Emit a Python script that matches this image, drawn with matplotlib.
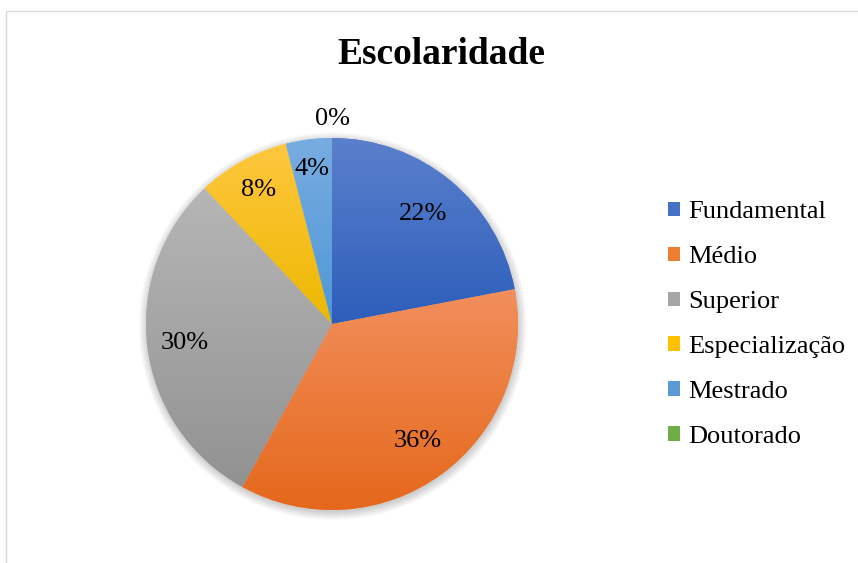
import numpy as np
import matplotlib
matplotlib.use("Agg")
from matplotlib import pyplot as plt
from matplotlib.patches import Patch, Rectangle, Circle
from matplotlib.colors import LinearSegmentedColormap

plt.rcParams['font.family'] = ['Liberation Serif', 'DejaVu Serif']

########################################
# Data
########################################
categories = ['Fundamental', 'Médio', 'Superior', 'Especialização', 'Mestrado', 'Doutorado']
values = [22, 36, 30, 8, 4, 0]
pct_labels = ['22%', '36%', '30%', '8%', '4%', '0%']

# gradient (top, bottom) per slice, legend uses middle colour
grad_top = ['#5A80CC', '#F28F5C', '#B6B6B6', '#FFC73F', '#78ACE0', '#80BA58']
grad_bot = ['#2D5EBA', '#E5681B', '#929292', '#ECB800', '#4E97D7', '#62A03A']
legend_cols = ['#4472C4', '#ED7D31', '#A5A5A5', '#FFC000', '#5B9BD5', '#70AD47']
label_dist = [0.77, 0.78, 0.80, 0.82, 0.84, 1.10]

W, H = 858, 563
fig = plt.figure(figsize=(W / 100, H / 100), dpi=100)

# pie axes: centre (332, 324) px, radius 186 px
R = 186
lim = 1.08
cx, cy = 332, 324
half = R * lim
ax = fig.add_axes([(cx - half) / W, (H - cy - half) / H, 2 * half / W, 2 * half / H])

# soft shadow
for k in range(8):
    ax.add_patch(Circle((0.004, -0.012), 1.0 + 0.006 * k, color='k', alpha=0.025, lw=0, zorder=0))

wedges, _ = ax.pie(values, startangle=90, counterclock=False, radius=1,
                   wedgeprops=dict(linewidth=0))

for w, c0, c1 in zip(wedges, grad_top, grad_bot):
    w.set_zorder(1)
    w.set_facecolor(c0)
    bb = w.get_path().get_extents(w.get_patch_transform())
    if bb.width <= 1e-6:
        w.set_visible(False)
        continue
    cmap = LinearSegmentedColormap.from_list('g', [c1, c0])
    grad = np.linspace(0, 1, 256).reshape(-1, 1)
    im = ax.imshow(grad, cmap=cmap, origin='lower', aspect='auto',
                   extent=[bb.x0, bb.x1, bb.y0, bb.y1], zorder=2, interpolation='bilinear')
    im.set_clip_path(w)

for w, lab, d in zip(wedges, pct_labels, label_dist):
    ang = np.deg2rad((w.theta1 + w.theta2) / 2)
    ax.text(d * np.cos(ang), d * np.sin(ang), lab, ha='center', va='center',
            fontsize=19, zorder=5)

ax.set_xlim(-lim, lim)
ax.set_ylim(-lim, lim)
ax.set_aspect('equal')
ax.axis('off')

fig.text(441 / W, 1 - 55 / H, 'Escolaridade', ha='center', va='center',
         fontsize=27, fontweight='bold')

handles = [Patch(facecolor=c, edgecolor='none') for c in legend_cols]
fig.legend(handles, categories, loc='center left', bbox_to_anchor=(668 / W, 1 - 324.5 / H),
           frameon=False, fontsize=19, handlelength=0.45, handleheight=0.45,
           handletextpad=0.3, labelspacing=0.87, borderpad=0, borderaxespad=0)

# chart border (left / top visible)
fig.add_artist(Rectangle((5.5 / W, -0.1), 1.0, (H - 11.5) / H + 0.1, fill=False,
                         edgecolor='#D9D9D9', lw=1, transform=fig.transFigure))

plt.savefig('out.png', dpi=100)
